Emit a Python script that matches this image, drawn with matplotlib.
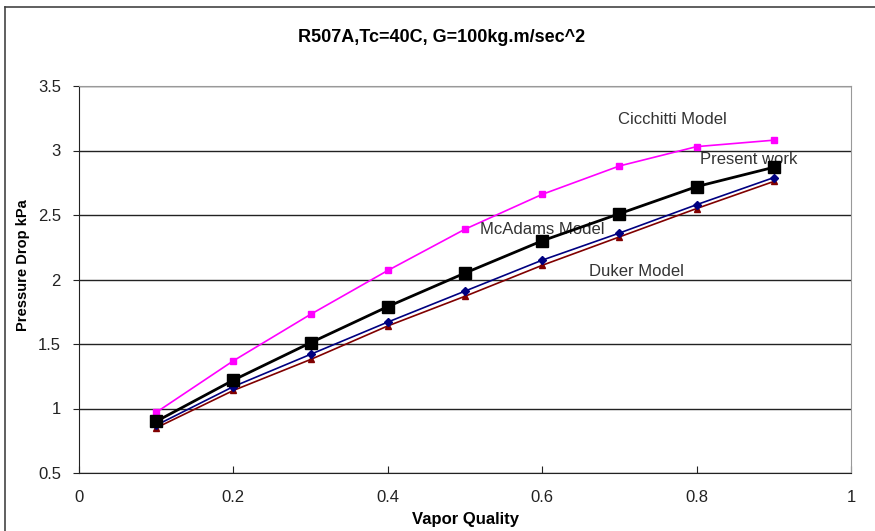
import matplotlib
matplotlib.use("Agg")
from matplotlib import pyplot as plt
from matplotlib.lines import Line2D

plt.rcParams['font.family'] = ['Liberation Sans', 'DejaVu Sans']

# data
quality = [0.1, 0.2, 0.3, 0.4, 0.5, 0.6, 0.7, 0.8, 0.9]
cicchitti = [0.97, 1.37, 1.73, 2.07, 2.39, 2.66, 2.88, 3.03, 3.08]
present = [0.90, 1.22, 1.51, 1.79, 2.05, 2.30, 2.51, 2.72, 2.87]
mcadams = [0.87, 1.17, 1.42, 1.67, 1.91, 2.15, 2.36, 2.58, 2.79]
duker = [0.85, 1.14, 1.38, 1.64, 1.87, 2.11, 2.33, 2.55, 2.76]

x_ticks = [0, 0.2, 0.4, 0.6, 0.8, 1]
x_labels = ["0", "0.2", "0.4", "0.6", "0.8", "1"]
y_ticks = [0.5, 1, 1.5, 2, 2.5, 3, 3.5]
y_labels = ["0.5", "1", "1.5", "2", "2.5", "3", "3.5"]

fig = plt.figure(figsize=(8.75, 5.31), dpi=100)
ax = fig.add_axes([79 / 875, 1 - 473 / 531, 772 / 875, 387 / 531])

ax.plot(quality, cicchitti, c='#FF00FF', lw=1.2, marker='s', ms=5, zorder=3)
ax.plot(quality, duker, c='#800000', lw=1.2, marker='^', ms=5, zorder=3)
ax.plot(quality, mcadams, c='#000080', lw=1.2, marker='D', ms=4, zorder=4)
ax.plot(quality, present, c='black', lw=2, marker='s', ms=8, zorder=5)

ax.set_xlim(0, 1)
ax.set_ylim(0.5, 3.5)
ax.set_xticks(x_ticks)
ax.set_xticklabels(x_labels)
ax.set_yticks(y_ticks)
ax.set_yticklabels(y_labels)
ax.tick_params(axis='x', direction='in', length=5, labelsize=12, pad=12, colors='#222222')
ax.tick_params(axis='y', direction='out', length=4, labelsize=12, pad=9, colors='#222222')
ax.yaxis.grid(True, color='#222222', lw=1)
ax.set_axisbelow(True)
for side in ['top', 'right']:
    ax.spines[side].set_color('#999999')
ax.spines['left'].set_color('#222222')
ax.spines['bottom'].set_color('#222222')

ax.set_xlabel("Vapor Quality", fontsize=12, fontweight='bold', labelpad=5)
ax.set_ylabel("Pressure Drop kPa", fontsize=10.5, fontweight='bold')
ax.yaxis.set_label_coords(-0.063, 0.537)
fig.text(0.505, 1 - 38 / 531, "R507A,Tc=40C, G=100kg.m/sec^2", ha='center', va='center',
         fontsize=13, fontweight='bold')

# series labels
ax.text(0.698, 3.24, "Cicchitti Model", fontsize=12, va='center', color='#333333')
ax.text(0.804, 2.93, "Present work", fontsize=12, va='center', color='#333333')
ax.text(0.519, 2.39, "McAdams Model", fontsize=12, va='center', color='#333333')
ax.text(0.661, 2.06, "Duker Model", fontsize=12, va='center', color='#333333')

# outer frame of the chart area
fig.add_artist(Line2D([5 / 875, 5 / 875], [0, 1 - 7 / 531], transform=fig.transFigure, color='#444444', lw=1.2))
fig.add_artist(Line2D([5 / 875, 1], [1 - 7 / 531, 1 - 7 / 531], transform=fig.transFigure, color='#444444', lw=1.2))

fig.savefig("out.png", dpi=100)
